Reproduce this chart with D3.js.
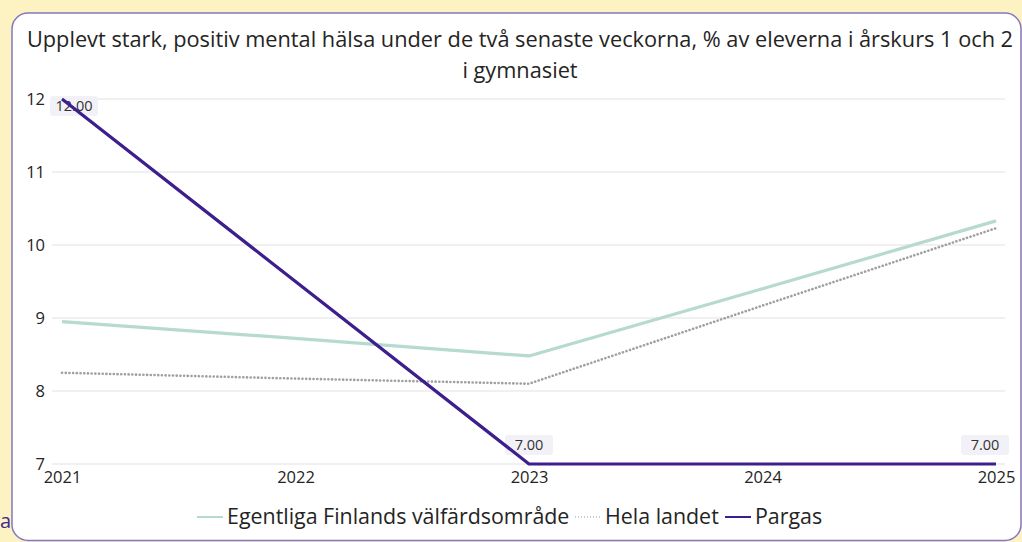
<!DOCTYPE html>
<html>
<head>
<meta charset="utf-8">
<script src="https://cdn.jsdelivr.net/npm/d3@7"></script>
<style>
  html, body { margin: 0; padding: 0; background: #fdf2c2; }
  svg { display: block; }
  text { font-family: "Segoe UI", "Open Sans", "Noto Sans", sans-serif; }
</style>
</head>
<body>
<svg id="chart" width="1022" height="542"></svg>
<script>
// Survey years and series (% of students, grades 1 and 2, upper secondary)
const years = [2021, 2022, 2023, 2024, 2025];
const egentligaFinland = [8.95, 8.72, 8.48, 9.40, 10.33];
const helaLandet = [8.25, 8.17, 8.10, 9.17, 10.23];
const pargas = [12, null, 7, null, 7];
const yTicks = [7, 8, 9, 10, 11, 12];
const titleLines = [
  "Upplevt stark, positiv mental hälsa under de två senaste veckorna, % av eleverna i årskurs 1 och 2",
  "i gymnasiet"
];
const seriesNames = ["Egentliga Finlands välfärdsområde", "Hela landet", "Pargas"];

const svg = d3.select("#chart");
const FONT = "\"Segoe UI\", \"Open Sans\", \"Noto Sans\", sans-serif";

// card panel
svg.append("rect")
  .attr("x", 12).attr("y", 13)
  .attr("width", 1009).attr("height", 527.5)
  .attr("rx", 16).attr("ry", 16)
  .attr("fill", "#ffffff")
  .attr("stroke", "#8577c2").attr("stroke-width", 1.5);

// partly visible letter at the left edge
svg.append("text")
  .attr("x", 0).attr("y", 528)
  .attr("font-size", 20)
  .attr("fill", "#3d2b8e")
  .text("a");

// title
svg.append("g").selectAll("text").data(titleLines).join("text")
  .attr("x", 520)
  .attr("y", (d, i) => 47 + i * 31)
  .attr("text-anchor", "middle")
  .attr("font-size", 21.75)
  .attr("fill", "#252423")
  .text(d => d);

const plotLeft = 62, plotRight = 996, plotTop = 99, plotBottom = 464;

const x = d3.scalePoint().domain(years).range([plotLeft, plotRight]);
const y = d3.scaleLinear().domain([7, 12]).range([plotBottom, plotTop]);

// gridlines
svg.append("g").selectAll("line").data(yTicks).join("line")
  .attr("x1", 52).attr("x2", 1005)
  .attr("y1", d => y(d)).attr("y2", d => y(d))
  .attr("stroke", "#e1e1e1").attr("stroke-width", 1);

// y axis labels
const yAxis = svg.append("g")
  .attr("transform", "translate(45,0)")
  .call(d3.axisLeft(y).tickValues(yTicks).tickSize(0).tickPadding(0).tickFormat(d3.format("d")));
yAxis.select(".domain").remove();
yAxis.selectAll("text")
  .attr("font-size", 16.5).attr("fill", "#252423")
  .attr("dy", "0.34em")
  .style("font-family", FONT);

// x axis labels
const xAxis = svg.append("g")
  .attr("transform", `translate(0,${plotBottom})`)
  .call(d3.axisBottom(x).tickSize(0).tickPadding(7).tickFormat(d3.format("d")));
xAxis.select(".domain").remove();
xAxis.selectAll("text")
  .attr("font-size", 16.5).attr("fill", "#252423")
  .style("font-family", FONT);

const line = d3.line()
  .defined(d => d.v !== null)
  .x(d => x(d.year))
  .y(d => y(d.v));

const toPoints = arr => years.map((yr, i) => ({ year: yr, v: arr[i] }));

// Egentliga Finland
svg.append("path")
  .datum(toPoints(egentligaFinland))
  .attr("d", line)
  .attr("fill", "none")
  .attr("stroke", "#b6d9d0")
  .attr("stroke-width", 3.2)
  .attr("stroke-linejoin", "round");

// Hela landet (dotted)
svg.append("path")
  .datum(toPoints(helaLandet))
  .attr("d", line)
  .attr("fill", "none")
  .attr("stroke", "#a0a0a0")
  .attr("stroke-width", 2.6)
  .attr("stroke-dasharray", "0.1 3.6")
  .attr("stroke-linecap", "round");

// Pargas (only observed years, connected)
const pargasPts = toPoints(pargas).filter(d => d.v !== null);

// data labels for Pargas
const fmt = d3.format(".2f");
const labelG = svg.append("g");
pargasPts.forEach(p => {
  const txt = fmt(p.v);
  const bw = 48, bh = 20;
  let cx = x(p.year);
  cx = Math.max(plotLeft - 12 + bw / 2, Math.min(1009 - bw / 2, cx));
  const py = y(p.v);
  let by = py - 9 - bh;
  if (by < plotTop) by = py - 3;
  labelG.append("rect")
    .attr("x", cx - bw / 2).attr("y", by)
    .attr("width", bw).attr("height", bh)
    .attr("rx", 3)
    .attr("fill", "#f1eff6").attr("fill-opacity", 0.9);
  labelG.append("text")
    .attr("x", cx).attr("y", by + 15)
    .attr("text-anchor", "middle")
    .attr("font-size", 14.5)
    .attr("fill", "#333333")
    .text(txt);
});

svg.append("path")
  .datum(pargasPts)
  .attr("d", line)
  .attr("fill", "none")
  .attr("stroke", "#3c1f8c")
  .attr("stroke-width", 3.2)
  .attr("stroke-linejoin", "round");

// legend
const legendItems = [
  { name: seriesNames[0], color: "#b6d9d0", dash: null, width: 2, x: 197 },
  { name: seriesNames[1], color: "#bdbdbd", dash: "1 2", width: 1.5, x: 575 },
  { name: seriesNames[2], color: "#3c1f8c", dash: null, width: 2, x: 725 }
];
const lg = svg.append("g");
legendItems.forEach(it => {
  lg.append("line")
    .attr("x1", it.x).attr("x2", it.x + 26)
    .attr("y1", 517).attr("y2", 517)
    .attr("stroke", it.color)
    .attr("stroke-width", it.width)
    .attr("stroke-dasharray", it.dash);
  lg.append("text")
    .attr("x", it.x + 30).attr("y", 524)
    .attr("font-size", 21.4)
    .attr("fill", "#252423")
    .text(it.name);
});
</script>
</body>
</html>
